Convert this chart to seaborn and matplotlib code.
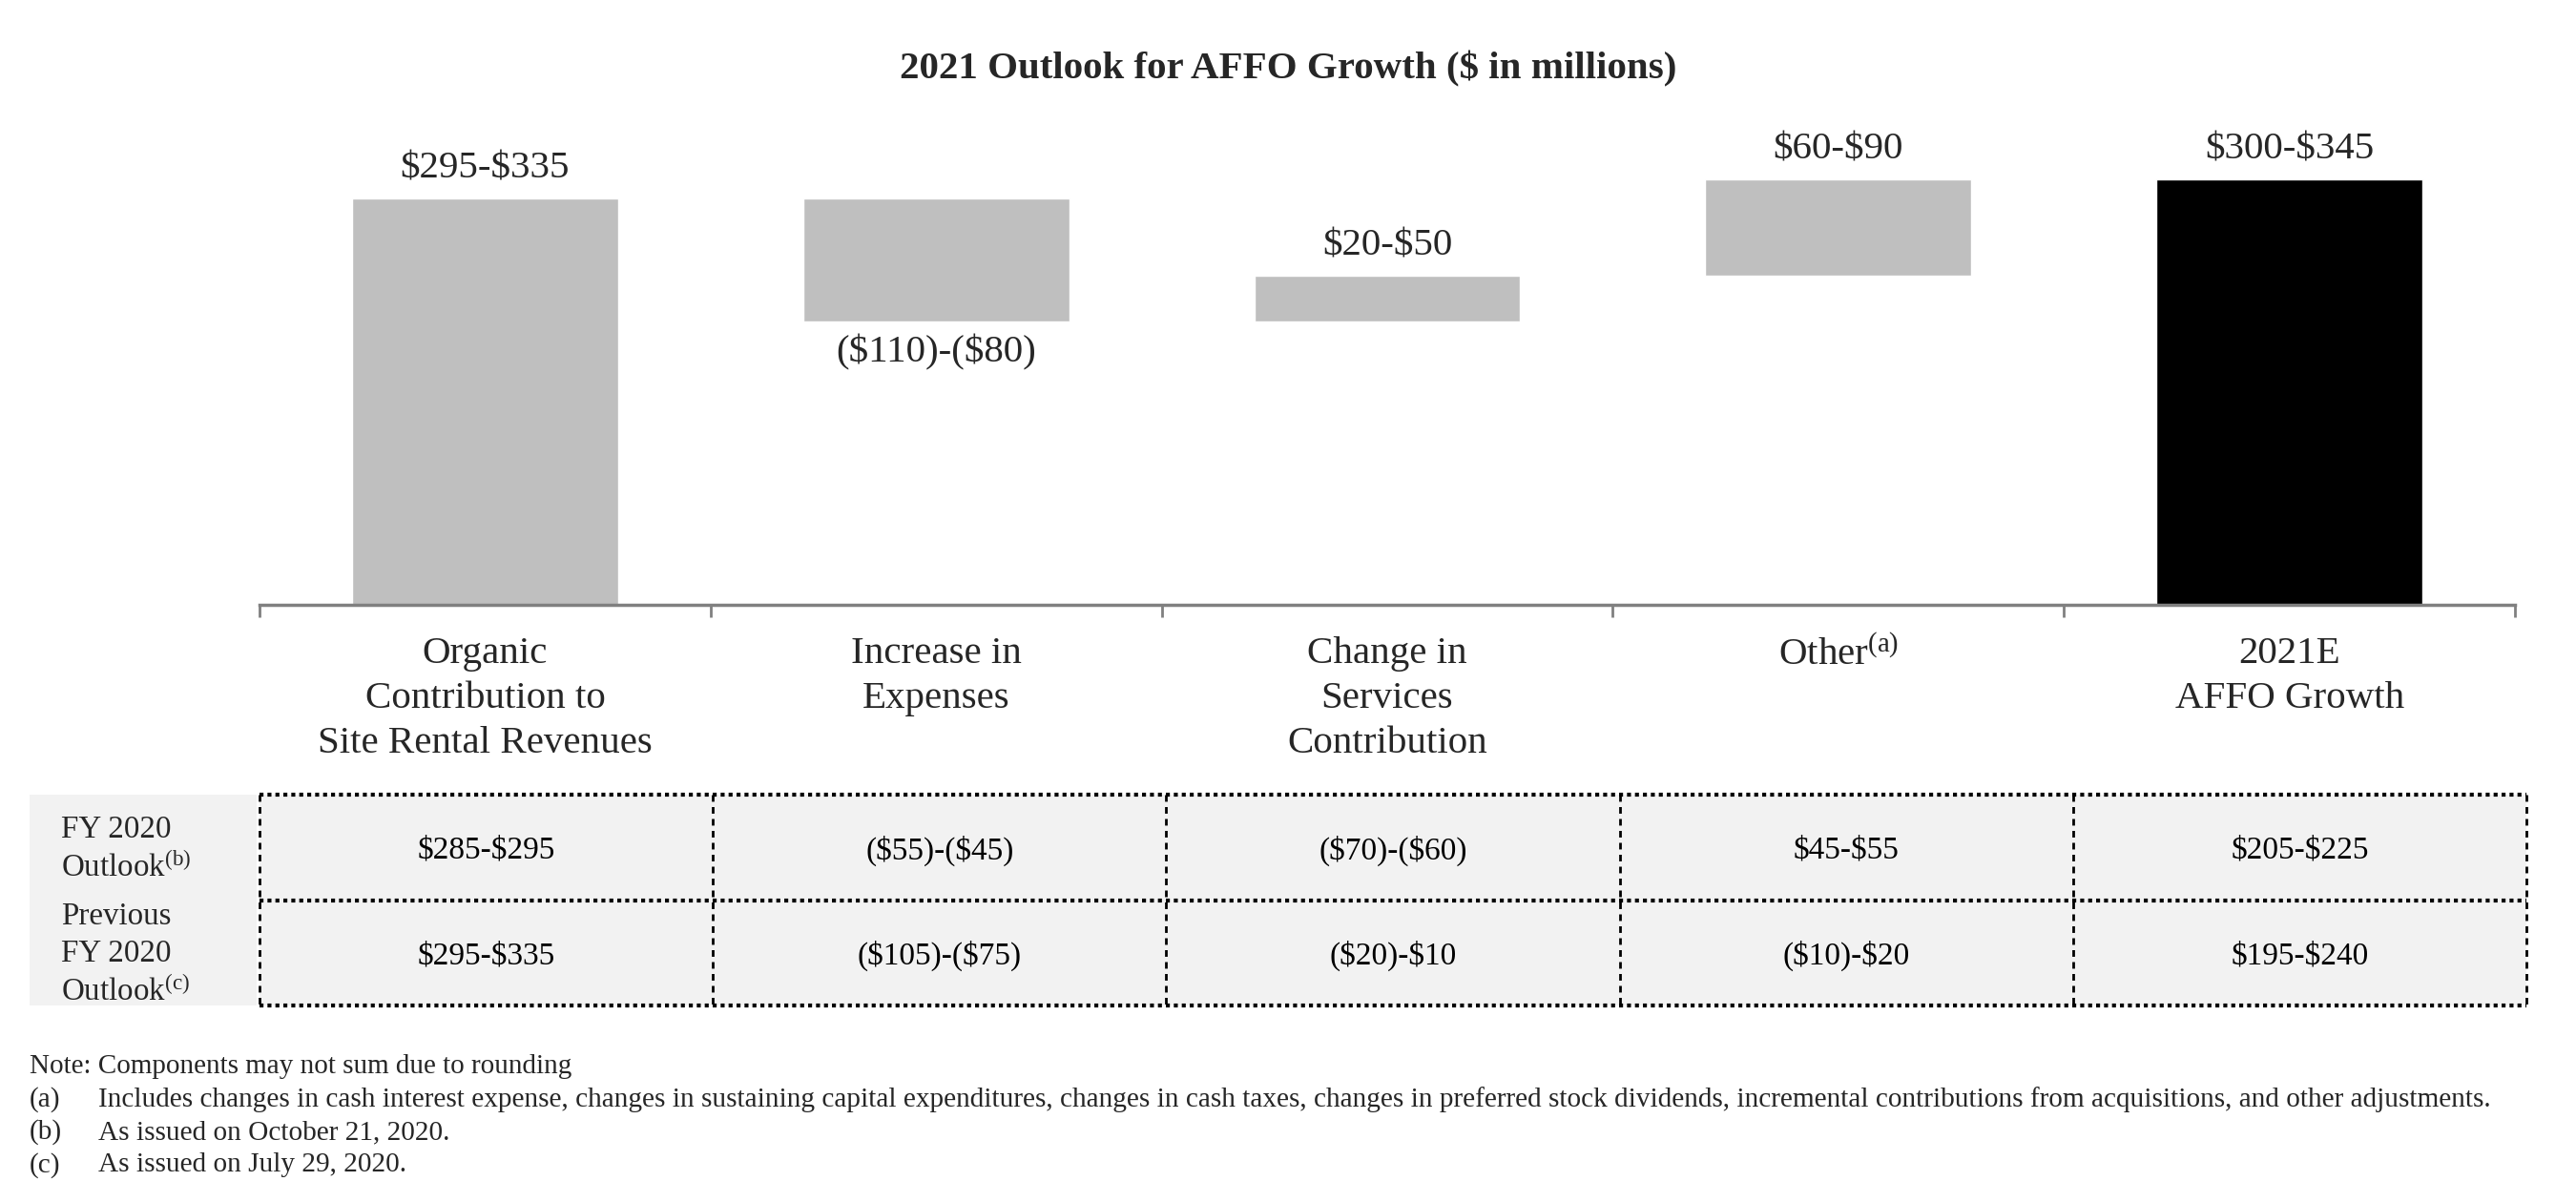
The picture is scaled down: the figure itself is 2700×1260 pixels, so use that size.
import numpy as np
import pandas as pd
import matplotlib
matplotlib.use("Agg")
import matplotlib.pyplot as plt
from matplotlib.colors import ListedColormap
from matplotlib.patches import Rectangle
import seaborn as sns

# ---------------- data ----------------
CATEGORIES = ["Organic\nContribution to\nSite Rental Revenues",
              "Increase in\nExpenses",
              "Change in\nServices\nContribution",
              r"Other$^{\mathrm{(a)}}$",
              "2021E\nAFFO Growth"]
STEPS = [315, -95, 35, 75]        # midpoints of the 2021 ranges
TOTAL = 330                       # height of the final bar as drawn
RANGE_LABELS = ["$295-$335", "($110)-($80)", "$20-$50", "$60-$90", "$300-$345"]
BAR_COLORS = ["#bfbfbf", "#bfbfbf", "#bfbfbf", "#bfbfbf", "#000000"]

ROW_NAMES = ["FY 2020\n" + r"Outlook$^{\mathrm{(b)}}$",
             "Previous\nFY 2020\n" + r"Outlook$^{\mathrm{(c)}}$"]
FY2020_OUTLOOK = ["$285-$295", "($55)-($45)", "($70)-($60)", "$45-$55", "$205-$225"]
PREV_OUTLOOK = ["$295-$335", "($105)-($75)", "($20)-$10", "($10)-$20", "$195-$240"]

NOTES = [("", "Note: Components may not sum due to rounding"),
         ("(a)", "Includes changes in cash interest expense, changes in sustaining capital "
                 "expenditures, changes in cash taxes, changes in preferred stock dividends, "
                 "incremental contributions from acquisitions, and other adjustments."),
         ("(b)", "As issued on October 21, 2020."),
         ("(c)", "As issued on July 29, 2020.")]

W, H = 2700, 1260


def esc(s):
    return s.replace("$", r"\$")


sns.set_style("white")
plt.rcParams["font.family"] = ["Liberation Serif", "DejaVu Serif"]
plt.rcParams["mathtext.fontset"] = "custom"
plt.rcParams["mathtext.rm"] = "Liberation Serif"
plt.rcParams["mathtext.it"] = "Liberation Serif:italic"
plt.rcParams["mathtext.bf"] = "Liberation Serif:bold"

# waterfall extents
ends = np.cumsum(STEPS)
starts = np.concatenate([[0], ends[:-1]])
lo = list(np.minimum(starts, ends)) + [0]
hi = list(np.maximum(starts, ends)) + [TOTAL]

fig = plt.figure(figsize=(W / 100, H / 100), dpi=100)

# ---------- waterfall ----------
ax = fig.add_axes([272 / W, 1 - 634 / H, (2636 - 272) / W, (634 - 130) / H])
df = pd.DataFrame({"cat": CATEGORIES, "height": np.array(hi) - np.array(lo)})
sns.barplot(data=df, x="cat", y="height", hue="cat", palette=BAR_COLORS,
            width=0.59, saturation=1, legend=False, ax=ax)
for patch, base in zip(ax.patches, lo):
    patch.set_y(base)

ax.set_xlim(-0.5, 4.5)
ax.set_ylim(0, 373)
ax.set_xlabel("")
ax.set_ylabel("")
ax.set_yticks([])
sns.despine(ax=ax, left=True)
ax.spines["bottom"].set_color("#808080")
ax.spines["bottom"].set_linewidth(2.5)
ax.set_xticks(np.arange(-0.5, 5), minor=True)
ax.tick_params(axis="x", which="major", length=0, pad=24, labelsize=29.5)
ax.tick_params(axis="x", which="minor", bottom=True, length=9, width=2,
               color="#808080", direction="out")
for lbl in ax.get_xticklabels():
    lbl.set_linespacing(1.36)

for i, text in enumerate(RANGE_LABELS):
    if i < len(STEPS) and STEPS[i] < 0:
        ax.annotate(esc(text), (i, lo[i]), xytext=(0, -10), textcoords="offset points",
                    ha="center", va="top", fontsize=29.5)
    else:
        ax.annotate(esc(text), (i, hi[i]), xytext=(0, 9), textcoords="offset points",
                    ha="center", va="bottom", fontsize=29.5)

fig.text(0.5, 1 - 72 / H, esc("2021 Outlook for AFFO Growth ($ in millions)"),
         ha="center", va="center", fontsize=29.5, fontweight="bold")

# ---------- outlook table ----------
tax = fig.add_axes([272 / W, 1 - 1054 / H, (2648 - 272) / W, (1054 - 833) / H])
annot = np.array([[esc(s) for s in FY2020_OUTLOOK], [esc(s) for s in PREV_OUTLOOK]])
sns.heatmap(np.zeros((2, 5)), annot=annot, fmt="", cmap=ListedColormap(["#f2f2f2"]),
            cbar=False, xticklabels=False, yticklabels=False, ax=tax,
            annot_kws={"fontsize": 24, "color": "black", "va": "center_baseline"})
tax.hlines([0, 1, 2], 0, 5, colors="black", linestyles=(0, (1, 1)), lw=3, clip_on=False)
tax.vlines(range(6), 0, 2, colors="black", linestyles=(0, (2.5, 2)), lw=2, clip_on=False)

col_px = (2648 - 272) / 5
head_w = (272 - 31) / col_px
tax.add_patch(Rectangle((-head_w, 0), head_w - 0.006, 2, facecolor="#f2f2f2",
                        edgecolor="none", clip_on=False))
for r, name in enumerate(ROW_NAMES):
    tax.text(-(272 - 64) / col_px, r + 0.52, name, ha="left", va="center",
             fontsize=23.8, linespacing=1.36, clip_on=False)

# ---------- footnotes ----------
for k, (tag, note) in enumerate(NOTES):
    y = 1 - (1118 + 34.5 * k) / H
    if tag:
        fig.text(31 / W, y, tag, ha="left", va="center", fontsize=21)
        fig.text(103 / W, y, note, ha="left", va="center", fontsize=21.1)
    else:
        fig.text(31 / W, y, note, ha="left", va="center", fontsize=21)

fig.savefig("out.png", dpi=100)
